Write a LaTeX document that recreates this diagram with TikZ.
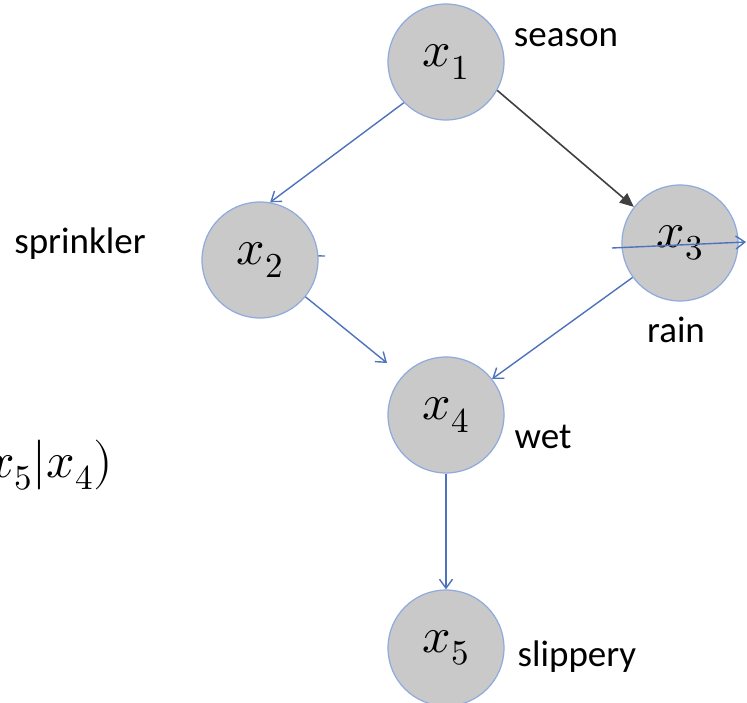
\documentclass[tikz,border=0pt]{standalone}
\usepackage{fontspec}
\usepackage{unicode-math}
\setmainfont{Carlito}
\setmathfont{Latin Modern Math}
\usetikzlibrary{arrows.meta}
\definecolor{nodefill}{RGB}{201,201,201}
\definecolor{nodeedge}{RGB}{143,170,220}
\definecolor{edgeblue}{RGB}{79,114,190}
\definecolor{edgegray}{RGB}{64,64,64}
\tikzset{
  var/.style={circle, draw=nodeedge, fill=nodefill, line width=1.2pt, minimum size=116pt, inner sep=0pt, font=\fontsize{50}{50}\selectfont},
  lbl/.style={font=\fontsize{37}{40}\selectfont, inner sep=0pt},
  bluearr/.style={draw=edgeblue, line width=1.4pt, -{Straight Barb[length=9pt,width=13pt,line width=1.4pt]}},
  grayarr/.style={draw=edgegray, line width=1.6pt, -{Triangle[length=14pt,width=12pt]}},
  blueline/.style={draw=edgeblue, line width=1.4pt}
}
\begin{document}
\begin{tikzpicture}[x=1pt,y=1pt]
\clip (0,0) rectangle (747,702);
\fill[white] (0,0) rectangle (747,702);
% nodes
\node[var] (x1) at (446,640) {$x_1$};
\node[var] (x2) at (260,442) {$x_2$};
\node[var] (x3) at (680,459) {$x_3$};
\node[var] (x4) at (446,287) {$x_4$};
\node[var] (x5) at (446,54) {$x_5$};
% labels
\node[lbl] (lseason) at (566,664) {season};
\node[lbl] (lsprink) at (80,458) {sprinkler};
\node[lbl] (lrain) at (676,372) {rain};
\node[lbl] (lwet) at (543,265) {wet};
\node[lbl] (lslip) at (577,45) {slippery};
\node[anchor=east, font=\fontsize{50}{50}\selectfont, inner sep=0pt] (cond) at (113,237) {$P(x_5|x_4)$};
% helper coordinates
\coordinate (t24) at (387,339);
\coordinate (hs) at (612,454);
\coordinate (he) at (746,460);
\coordinate (tick) at (325,446);
% edges
\draw[bluearr] (x1.224) -- (x2.80);
\draw[grayarr] (x1.-29) -- (x3.142);
\draw[bluearr] (x2.-39) -- (t24);
\draw[bluearr] (x3.216) -- (x4.38);
\draw[bluearr] (x4.south) -- (x5.north);
\draw[blueline] (x2.4) -- (tick);
\draw[bluearr] (hs) -- (he);
\end{tikzpicture}
\end{document}
